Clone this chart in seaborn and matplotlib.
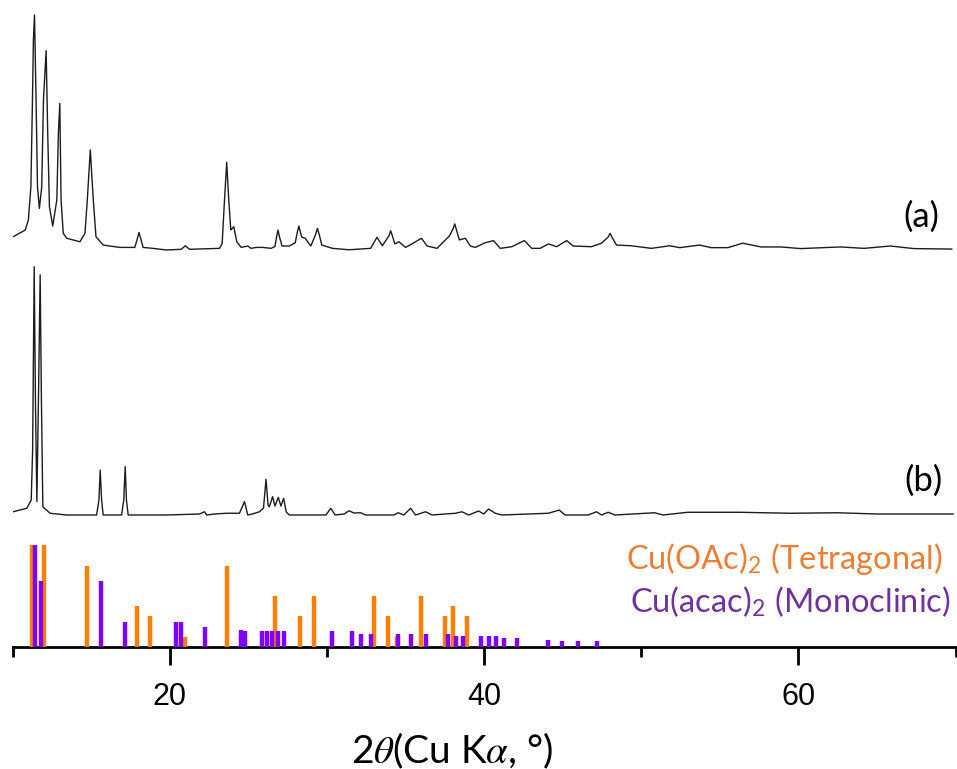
import numpy as np
import pandas as pd
import matplotlib
matplotlib.use("Agg")
import matplotlib.pyplot as plt
import seaborn as sns
from matplotlib.ticker import FixedLocator

# ---- measured pattern (a): 2-theta (deg) and relative intensity (max = 100)
A_2THETA = [10.06, 10.81, 11.01, 11.17, 11.27, 11.33, 11.40, 11.50, 11.59, 11.71,
            11.86, 11.97, 12.14, 12.24, 12.35, 12.56, 12.82, 12.92, 13.01, 13.09,
            13.23, 13.45, 14.29, 14.61, 14.76, 14.95, 15.14, 15.31, 15.77, 16.83,
            17.78, 17.93, 18.05, 18.17, 18.31, 18.94, 19.79, 20.74, 20.90, 21.00,
            21.10, 21.27, 23.17, 23.34, 23.49, 23.63, 23.76, 23.89, 24.08, 24.27,
            24.55, 24.97, 25.18, 25.50, 25.92, 26.45, 26.70, 26.80, 26.89, 26.99,
            27.15, 27.61, 27.99, 28.12, 28.22, 28.32, 28.41, 28.62, 28.98, 29.28,
            29.40, 29.52, 29.68, 30.36, 31.41, 32.79, 33.19, 33.53, 33.95, 34.06,
            34.17, 34.33, 34.59, 35.01, 35.54, 36.02, 36.38, 37.01, 37.55, 37.80,
            38.03, 38.14, 38.25, 38.43, 38.81, 39.13, 39.45, 40.08, 40.61, 41.03,
            41.77, 42.57, 43.04, 43.57, 44.10, 44.62, 45.26, 45.68, 46.84, 47.48,
            47.90, 48.02, 48.14, 48.43, 49.38, 50.65, 51.81, 52.45, 53.72, 54.45,
            55.51, 56.46, 57.62, 58.89, 60.16, 62.69, 64.18, 65.86, 67.35, 69.78]
A_INT = [5.7, 8.5, 12.8, 26.9, 63.8, 89.4, 100.0, 63.8, 26.9, 17.7,
         26.9, 63.8, 84.8, 49.8, 18.4, 10.2, 21.3, 49.8, 62.4, 21.3,
         7.1, 5.0, 3.5, 7.1, 21.3, 42.6, 21.3, 5.7, 2.1, 1.1,
         1.1, 4.5, 7.5, 4.5, 1.1, 0.7, 0.0, 0.3, 1.2, 1.8,
         1.2, 0.3, 0.7, 2.8, 21.3, 37.3, 21.3, 8.5, 9.9, 3.5,
         1.1, 1.7, 0.7, 1.1, 1.1, 0.7, 1.5, 5.5, 8.5, 5.5,
         1.7, 1.7, 3.1, 7.5, 10.2, 7.5, 5.4, 5.0, 1.7, 6.5,
         9.2, 6.5, 2.1, 0.7, 0.1, 0.7, 5.4, 1.8, 6.0, 8.2,
         6.0, 2.6, 3.5, 1.1, 3.1, 5.0, 1.7, 0.7, 4.3, 6.0,
         9.0, 11.1, 8.5, 4.3, 5.0, 1.7, 1.1, 3.1, 4.0, 0.7,
         1.4, 4.0, 0.7, 0.7, 2.6, 1.4, 4.0, 1.7, 1.4, 2.9,
         5.5, 7.1, 5.5, 2.1, 1.8, 0.7, 1.8, 1.0, 2.1, 1.0,
         1.0, 2.9, 1.3, 1.3, 0.6, 1.3, 0.7, 1.7, 0.6, 0.4]

# ---- measured pattern (b)
B_2THETA = [10.03, 10.91, 11.19, 11.28, 11.38, 11.46, 11.55, 11.65, 11.76, 11.84,
            11.93, 12.39, 13.45, 15.35, 15.50, 15.58, 15.67, 15.77, 16.94, 17.08,
            17.17, 17.25, 17.36, 19.79, 21.90, 22.22, 22.35, 22.85, 23.60, 24.44,
            24.76, 24.97, 25.26, 25.71, 25.97, 26.13, 26.26, 26.34, 26.55, 26.70,
            26.91, 27.08, 27.25, 27.42, 27.61, 29.94, 30.25, 30.53, 31.10, 31.41,
            31.73, 32.16, 32.47, 34.27, 34.54, 34.90, 35.33, 35.64, 36.28, 36.70,
            38.18, 38.60, 39.02, 39.66, 39.98, 40.29, 40.72, 41.14, 44.10, 44.78,
            45.16, 46.63, 47.16, 47.48, 47.90, 48.33, 50.86, 51.39, 52.96, 56.25,
            59.50, 62.49, 65.00, 69.86]
B_INT = [1.3, 2.7, 6.0, 26.0, 100.0, 46.0, 5.4, 46.0, 96.7, 46.0,
         3.3, 0.7, 0.0, 0.0, 6.0, 18.1, 6.0, 0.0, 0.0, 6.0,
         19.5, 6.0, 0.0, 0.0, 0.4, 1.3, 0.0, 0.4, 0.7, 0.7,
         5.4, 0.0, 0.4, 1.3, 2.8, 14.4, 4.0, 3.3, 7.4, 3.6,
         7.1, 3.6, 6.7, 1.2, 0.0, 0.0, 2.7, 0.0, 0.4, 1.7,
         0.8, 0.9, 0.0, 0.0, 0.9, 0.0, 2.7, 0.0, 1.3, 0.0,
         0.7, 1.3, 0.0, 1.6, 0.4, 2.4, 0.7, 0.0, 0.7, 2.0,
         0.0, 0.0, 1.3, 0.0, 1.1, 0.0, 0.9, 0.0, 1.1, 1.1,
         0.7, 0.9, 0.4, 0.4]

# ---- reference stick patterns
OAC_POS = [11.25, 11.99, 14.76, 17.90, 18.78, 21.00, 23.66, 26.72, 28.27, 29.20,
           33.00, 33.90, 34.46, 36.00, 37.55, 38.03, 38.90]
OAC_INT = [100, 100, 80, 40, 30, 10, 80, 50, 30, 50,
           50, 30, 10, 50, 30, 40, 30]
ACAC_POS = [11.40, 11.80, 15.62, 17.17, 20.38, 20.70, 22.24, 24.55, 24.80, 25.85,
            26.17, 26.50, 26.90, 27.30, 30.33, 31.63, 32.20, 32.80, 34.53, 35.38,
            36.30, 37.70, 38.24, 38.68, 39.78, 40.33, 40.75, 41.30, 42.10, 44.10,
            44.98, 46.00, 47.20]
ACAC_INT = [100, 65, 65, 25, 25, 25, 20, 17, 15.5, 15.5,
            15.5, 15.5, 15.5, 15.5, 15.5, 15.5, 12.5, 12.5, 12.5, 12.5,
            12.5, 12.5, 10.5, 10.5, 10.5, 10.5, 10.5, 9, 9, 6.5,
            6, 6, 6]

X_TICKS = [20, 40, 60]
SAMPLE_LABELS = ["(a)", "(b)"]
PHASE_LABELS = [r"Cu(OAc)$_\mathrm{2}$ (Tetragonal)", r"Cu(acac)$_\mathrm{2}$ (Monoclinic)"]

sns.set_theme(style="white")
plt.rcParams["font.family"] = ["Lato", "DejaVu Sans"]
plt.rcParams["mathtext.fontset"] = "custom"
plt.rcParams["mathtext.rm"] = "Lato"
plt.rcParams["mathtext.it"] = "STIXGeneral:italic"

W, H = 957, 769
fig = plt.figure(figsize=(W / 100, H / 100), dpi=100)
ax = fig.add_axes([12.5 / W, (H - 647) / H, 943 / W, 647 / H])

# stacked traces: vertical offset + scale for each pattern
df_a = pd.DataFrame({"two_theta": A_2THETA, "y": 397 + 2.35 * np.asarray(A_INT)})
df_b = pd.DataFrame({"two_theta": B_2THETA, "y": 132 + 2.483 * np.asarray(B_INT)})
for df in (df_a, df_b):
    sns.lineplot(data=df, x="two_theta", y="y", estimator=None, sort=False,
                 color="#1c1c1c", linewidth=1.0, ax=ax)

# stick patterns sitting on the axis
stick_scale = 1.017
ax.vlines(OAC_POS, 0, stick_scale * np.asarray(OAC_INT), colors="#FF8000",
          linewidth=3.2, capstyle="butt", zorder=3)
ax.vlines(ACAC_POS, 0, stick_scale * np.asarray(ACAC_INT), colors="#8000FF",
          linewidth=3.2, capstyle="butt", zorder=3)

ax.set_xlim(10, 70)
ax.set_ylim(0, 647)

# labels on the traces
ax.text(67.86, 430, SAMPLE_LABELS[0], fontsize=25, ha="center", va="center", color="black")
ax.text(67.98, 166, SAMPLE_LABELS[1], fontsize=25, ha="center", va="center", color="black")
ax.text(69.19, 78, PHASE_LABELS[0], fontsize=23.5, ha="right", va="baseline", color="#ED7D31")
ax.text(69.70, 35, PHASE_LABELS[1], fontsize=23.5, ha="right", va="baseline", color="#7030A0")

# axis styling
sns.despine(ax=ax, left=True, top=True, right=True)
ax.spines["bottom"].set_color("black")
ax.spines["bottom"].set_linewidth(2.0)
ax.set_yticks([])
ax.set_ylabel("")
ax.set_xticks(X_TICKS)
ax.set_xticklabels([str(t) for t in X_TICKS], fontfamily="Liberation Sans",
                   fontsize=22, color="black")
ax.xaxis.set_minor_locator(FixedLocator([10, 30, 50, 70]))
ax.tick_params(axis="x", which="both", bottom=True, direction="out", color="black", width=2.0)
ax.tick_params(axis="x", which="major", length=13, pad=12)
ax.tick_params(axis="x", which="minor", length=7)

ax.set_xlabel(r"2$\theta$(Cu K$\alpha$, °)", fontsize=28, color="black")
ax.xaxis.set_label_coords(0.466, -0.179)
ax.xaxis.label.set_va("baseline")

fig.savefig("out.png", dpi=100)
